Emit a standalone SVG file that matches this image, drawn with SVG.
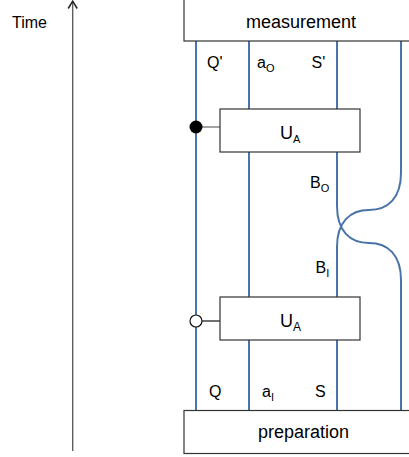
<svg xmlns="http://www.w3.org/2000/svg" width="409" height="457" viewBox="0 0 409 457">
<style>
  .box{fill:#fff;stroke:#333;stroke-width:1.2}
  .wire{fill:none;stroke:#4a74a8;stroke-width:2}
  .t{font-family:"Liberation Sans",Arial,sans-serif;fill:#000}
  .lbl{font-size:16px}
  .big{font-size:18px}
  .sub{font-size:11px}
</style>
<defs>
  <marker id="open" markerWidth="12" markerHeight="12" refX="6" refY="1" orient="auto" markerUnits="userSpaceOnUse" viewBox="0 0 12 12">
    <path d="M1.5,8.5 L6,1 L10.5,8.5" fill="none" stroke="#333" stroke-width="1.3"/>
  </marker>
</defs>
<rect width="409" height="457" fill="#fff"/>

<g id="time">
  <text class="t lbl" x="12" y="28">Time</text>
  <line x1="72.7" y1="451" x2="72.7" y2="1.5" stroke="#555" stroke-width="1.3"/>
  <path d="M68.2,8.5 L72.7,1.2 L77.2,8.5" fill="none" stroke="#222" stroke-width="1.5"/>
</g>

<g id="connectors">
  <line class="wire" x1="196" y1="41" x2="196" y2="410"/>
  <line class="wire" x1="249" y1="41" x2="249" y2="109"/>
  <line class="wire" x1="249" y1="152" x2="249" y2="297"/>
  <line class="wire" x1="249" y1="340" x2="249" y2="410"/>
  <line class="wire" x1="337" y1="41" x2="337" y2="109"/>
  <line class="wire" x1="337" y1="340" x2="337" y2="410"/>
  <path class="wire" d="M401,41 V173 C401,198 388,210 369,210 C350,210 337,222 337,247 V297"/>
  <path class="wire" d="M337,152 V206 C337,231 350,243 369,243 C388,243 401,255 401,280 V410"/>
  <line x1="196" y1="127" x2="220" y2="127" stroke="#666" stroke-width="1.2"/>
  <line x1="202" y1="321" x2="220" y2="321" stroke="#111" stroke-width="1.2"/>
  <circle cx="196" cy="127" r="6.5" fill="#000"/>
  <circle cx="196" cy="321" r="6" fill="#fff" stroke="#111" stroke-width="1.2"/>
</g>

<g id="measurement">
  <rect class="box" x="184" y="-5" width="236" height="46"/>
  <text class="t big" x="301" y="28" text-anchor="middle">measurement</text>
</g>

<g id="preparation">
  <rect class="box" x="184" y="410.5" width="240" height="43"/>
  <text class="t big" x="303.5" y="438" text-anchor="middle">preparation</text>
</g>

<g id="ua-top">
  <rect class="box" x="220" y="109" width="140" height="43"/>
  <text class="t big" x="280" y="139">U<tspan class="sub" font-size="12px" dy="4">A</tspan></text>
</g>

<g id="ua-bottom">
  <rect class="box" x="220" y="297" width="140" height="43"/>
  <text class="t big" x="280" y="327">U<tspan font-size="12px" dy="4">A</tspan></text>
</g>

<g id="labels">
  <text class="t lbl" x="207" y="68">Q'</text>
  <text class="t lbl" x="257" y="68">a<tspan font-size="11px" dy="4">O</tspan></text>
  <text class="t lbl" x="311.5" y="68">S'</text>
  <text class="t lbl" x="310" y="188">B<tspan font-size="11px" dy="4">O</tspan></text>
  <text class="t lbl" x="315.5" y="273">B<tspan font-size="11px" dy="4">I</tspan></text>
  <text class="t lbl" x="209" y="397">Q</text>
  <text class="t lbl" x="262" y="397">a<tspan font-size="11px" dy="4">I</tspan></text>
  <text class="t lbl" x="315" y="397">S</text>
</g>
</svg>
